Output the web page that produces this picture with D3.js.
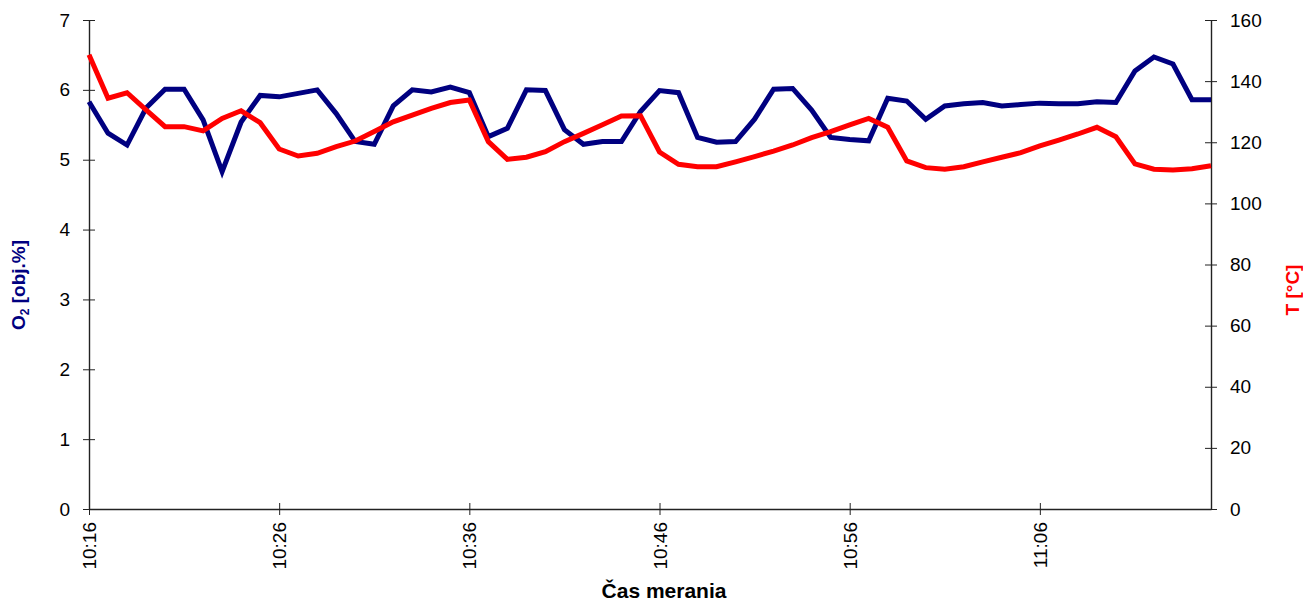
<!DOCTYPE html>
<html>
<head>
<meta charset="utf-8">
<script src="https://cdn.jsdelivr.net/npm/d3@7/dist/d3.min.js"></script>
<style>
  html, body { margin: 0; padding: 0; background: #fff; }
  svg { display: block; font-family: "Liberation Sans", Arial, sans-serif; }
</style>
</head>
<body>
<svg id="chart" width="1303" height="601"></svg>
<script>
// Measurement times (one reading per minute)
const times = [
  "10:16","10:17","10:18","10:19","10:20","10:21","10:22","10:23","10:24","10:25",
  "10:26","10:27","10:28","10:29","10:30","10:31","10:32","10:33","10:34","10:35",
  "10:36","10:37","10:38","10:39","10:40","10:41","10:42","10:43","10:44","10:45",
  "10:46","10:47","10:48","10:49","10:50","10:51","10:52","10:53","10:54","10:55",
  "10:56","10:57","10:58","10:59","11:00","11:01","11:02","11:03","11:04","11:05",
  "11:06","11:07","11:08","11:09","11:10","11:11","11:12","11:13","11:14","11:15"
];

// Oxygen content O2 [obj.%]
const o2 = [
  5.83,5.38,5.21,5.74,6.01,6.01,5.57,4.83,5.54,5.92,
  5.90,5.95,6.00,5.66,5.26,5.22,5.77,6.00,5.97,6.04,
  5.96,5.33,5.45,6.00,5.99,5.43,5.22,5.26,5.26,5.69,
  5.99,5.96,5.32,5.25,5.26,5.58,6.01,6.02,5.71,5.32,
  5.29,5.27,5.88,5.84,5.58,5.77,5.80,5.82,5.77,5.79,
  5.81,5.80,5.80,5.83,5.82,6.27,6.47,6.37,5.86,5.86
];

// Temperature T [°C]
const temperature = [
  148.6,134.4,136.2,130.6,125.1,125.1,123.7,127.8,130.3,126.4,
  117.8,115.5,116.4,118.6,120.4,123.5,126.7,128.9,131.1,133.0,
  133.8,120.2,114.4,115.1,116.9,120.2,122.9,125.7,128.6,128.7,
  116.8,112.8,112.0,112.0,113.6,115.3,117.1,119.1,121.5,123.5,
  125.7,127.8,124.9,113.9,111.7,111.2,112.0,113.6,115.1,116.6,
  118.8,120.7,122.7,124.9,121.8,112.9,111.2,110.9,111.3,112.3
];

// Axis tick values
const xTickLabels = ["10:16","10:26","10:36","10:46","10:56","11:06"];
const o2Ticks = [0,1,2,3,4,5,6,7];
const tempTicks = [0,20,40,60,80,100,120,140,160];

const parseTime = d3.timeParse("%H:%M");
const dates = times.map(parseTime);

const plot = { left: 89, right: 1211, top: 20, bottom: 509 };

const svg = d3.select("#chart");

const x = d3.scaleTime()
  .domain([dates[0], dates[dates.length - 1]])
  .range([plot.left, plot.right]);

const yO2 = d3.scaleLinear().domain([0, 7]).range([plot.bottom, plot.top]);
const yT = d3.scaleLinear().domain([0, 160]).range([plot.bottom, plot.top]);

const axisColor = "#222";
const tickFont = 19;

// Left axis (O2)
const gLeft = svg.append("g")
  .attr("transform", `translate(${plot.left},0)`)
  .call(d3.axisLeft(yO2).tickValues(o2Ticks).tickFormat(d3.format("d")).tickSizeOuter(0).tickPadding(13));
// Right axis (T)
const gRight = svg.append("g")
  .attr("transform", `translate(${plot.right},0)`)
  .call(d3.axisRight(yT).tickValues(tempTicks).tickFormat(d3.format("d")).tickSizeOuter(0).tickPadding(13));
// Bottom axis (time)
const gBottom = svg.append("g")
  .attr("transform", `translate(0,${plot.bottom})`)
  .call(d3.axisBottom(x).tickValues(xTickLabels.map(parseTime)).tickFormat(d3.timeFormat("%H:%M")).tickSizeOuter(0));

[gLeft, gRight, gBottom].forEach(g => {
  g.select(".domain").attr("stroke", axisColor).attr("stroke-width", 1.4);
  g.selectAll(".tick line").attr("stroke", axisColor).attr("stroke-width", 1);
  g.selectAll(".tick text")
    .attr("fill", "#000")
    .attr("font-size", tickFont)
    .attr("font-family", "Liberation Sans, Arial, sans-serif");
});

// Tick marks cross the axis line
gLeft.selectAll(".tick line").attr("x1", -6).attr("x2", 6);
gRight.selectAll(".tick line").attr("x1", -6).attr("x2", 6);
gBottom.selectAll(".tick line").attr("y1", -6).attr("y2", 6);

// Rotated time labels
gBottom.selectAll(".tick text")
  .attr("text-anchor", "end")
  .attr("transform", "rotate(-90)")
  .attr("x", -13)
  .attr("y", 0)
  .attr("dy", "0.35em");

// Series lines
const lineO2 = d3.line().x((d, i) => x(dates[i])).y(d => yO2(d));
const lineT = d3.line().x((d, i) => x(dates[i])).y(d => yT(d));

svg.append("path")
  .datum(o2)
  .attr("fill", "none")
  .attr("stroke", "#000080")
  .attr("stroke-width", 5)
  .attr("stroke-linejoin", "miter")
  .attr("d", lineO2);

svg.append("path")
  .datum(temperature)
  .attr("fill", "none")
  .attr("stroke", "#ff0000")
  .attr("stroke-width", 5)
  .attr("stroke-linejoin", "miter")
  .attr("d", lineT);

// Axis titles
const leftTitle = svg.append("text")
  .attr("transform", "translate(25,285) rotate(-90)")
  .attr("text-anchor", "middle")
  .attr("font-size", 19)
  .attr("font-weight", "bold")
  .attr("fill", "#000080");
leftTitle.append("tspan").text("O");
leftTitle.append("tspan").attr("font-size", 12).attr("dy", 4).text("2");
leftTitle.append("tspan").attr("dy", -4).text(" [obj.%]");

svg.append("text")
  .attr("transform", "translate(1299,290) rotate(-90)")
  .attr("text-anchor", "middle")
  .attr("font-size", 19)
  .attr("font-weight", "bold")
  .attr("fill", "#ff0000")
  .text("T [°C]");

svg.append("text")
  .attr("x", 664)
  .attr("y", 598)
  .attr("text-anchor", "middle")
  .attr("font-size", 21)
  .attr("font-weight", "bold")
  .attr("fill", "#000")
  .text("Čas merania");
</script>
</body>
</html>
